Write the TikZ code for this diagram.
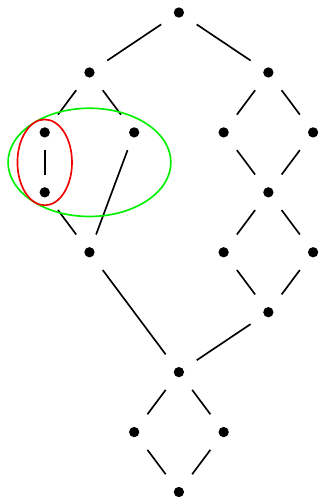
\documentclass[tikz,border=0pt]{standalone}
\usepackage{tikz}
\usetikzlibrary{positioning}
\definecolor{blockColor}{HTML}{00F000}
\definecolor{chainColor}{HTML}{F00000}

\tikzset{
  elt/.style={rectangle, inner sep=0pt, minimum size=0.78cm,
    path picture={\fill (path picture bounding box.center) circle (0.115cm);}},
  edge/.style={line width=1.05pt}
}

\begin{document}
\begin{tikzpicture}[x=1cm, y=1.34cm]
          \useasboundingbox (0,-0.2) rectangle (7.2cm,11.0cm);
          % left part
          \node[elt] (top) at (4,8) {};
          \node[elt] (l) at (2,7) {};
          \node[elt] (l1) at (1,6) {};
          \node[elt] (l2) at (3,6) {};
          \node[elt] (l3) at (1,5) {};
          \node[elt] (lb) at (2,4) {};
          % right part
          \node[elt] (r) at (6,7) {};
          \node[elt] (r1) at (5,6) {};
          \node[elt] (r2) at (7,6) {};
          \node[elt] (rm) at (6,5) {};
          \node[elt] (r3) at (5,4) {};
          \node[elt] (r4) at (7,4) {};
          \node[elt] (rb) at (6,3) {};
          % bottom diamond
          \node[elt] (m) at (4,2) {};
          \node[elt] (m1) at (3,1) {};
          \node[elt] (m2) at (5,1) {};
          \node[elt] (bot) at (4,0) {};

          \draw[edge] (top) -- (l);
          \draw[edge] (top) -- (r);
          \draw[edge] (l) -- (l1);
          \draw[edge] (l) -- (l2);
          \draw[edge] (l1) -- (l3);
          \draw[edge] (l3) -- (lb);
          \draw[edge] (l2) -- (lb);
          \draw[edge] (lb) -- (m);
          \draw[edge] (r) -- (r1);
          \draw[edge] (r) -- (r2);
          \draw[edge] (r1) -- (rm);
          \draw[edge] (r2) -- (rm);
          \draw[edge] (rm) -- (r3);
          \draw[edge] (rm) -- (r4);
          \draw[edge] (r3) -- (rb);
          \draw[edge] (r4) -- (rb);
          \draw[edge] (rb) -- (m);
          \draw[edge] (m) -- (m1);
          \draw[edge] (m) -- (m2);
          \draw[edge] (m1) -- (bot);
          \draw[edge] (m2) -- (bot);

          \draw[blockColor, line width=1.05pt] (2,5.5) ellipse (1.82cm and 1.21cm);
          \draw[chainColor, line width=1.05pt] (1,5.5) ellipse (0.61cm and 0.96cm);
        \end{tikzpicture}
\end{document}
